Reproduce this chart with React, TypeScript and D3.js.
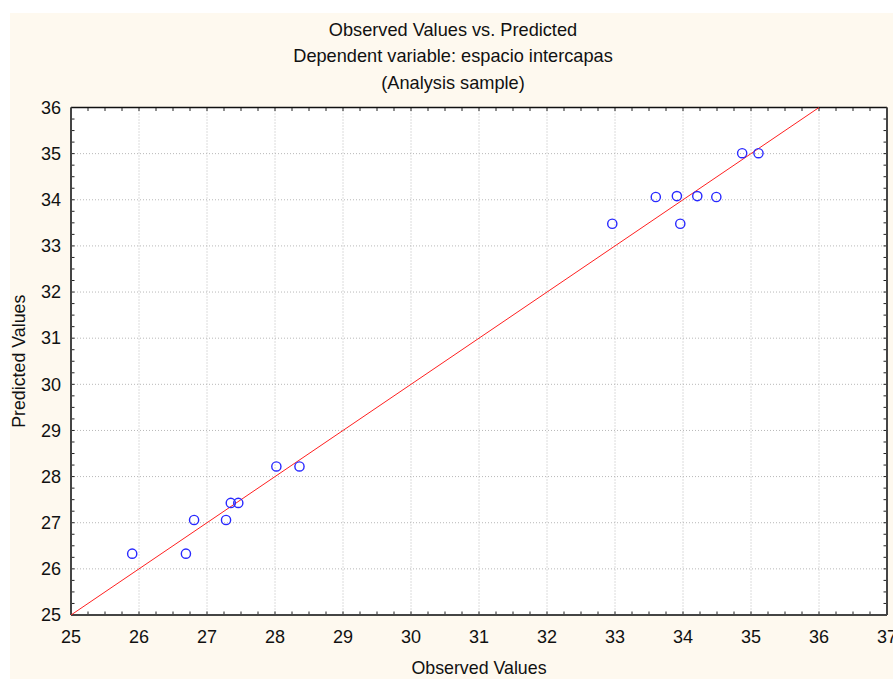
import React from "react";
import * as d3 from "d3";

const observed = [25.9, 26.69, 26.81, 27.28, 27.35, 27.46, 28.02, 28.36, 32.96, 33.6, 33.91, 33.96, 34.21, 34.49, 34.87, 35.11];
const predicted = [26.33, 26.33, 27.06, 27.06, 27.43, 27.43, 28.22, 28.22, 33.48, 34.06, 34.08, 33.48, 34.08, 34.06, 35.01, 35.01];
const xTicks = [25, 26, 27, 28, 29, 30, 31, 32, 33, 34, 35, 36, 37];
const yTicks = [25, 26, 27, 28, 29, 30, 31, 32, 33, 34, 35, 36];
const fitLine = [25, 36];
const titleLines = ["Observed Values vs. Predicted", "Dependent variable: espacio intercapas", "(Analysis sample)"];
const xTitle = "Observed Values";
const yTitle = "Predicted Values";

const W = 893;
const H = 680;
const left = 71, right = 887, top = 107.5, bottom = 615;
const FONT = "'Liberation Sans', Arial, sans-serif";

export default function App() {
  const x = d3.scaleLinear().domain([25, 37]).range([left, right]);
  const y = d3.scaleLinear().domain([25, 36]).range([bottom, top]);
  const xMinor = d3.range(25, 37.001, 0.25);
  const yMinor = d3.range(25, 36.001, 0.25);
  const line = d3.line<number>().x((d) => x(d)).y((d) => y(d));
  const tickLen = 3.5;

  return (
    <svg width={W} height={H} style={{ position: "absolute", left: 0, top: 0, display: "block" }} fontFamily={FONT}>
      <rect x={0} y={0} width={W} height={H} fill="#ffffff" />
      <rect x={10} y={13} width={W - 10} height={666} fill="#FEF9EF" />
      <rect x={left} y={top} width={right - left} height={bottom - top} fill="#ffffff" />
      {titleLines.map((t, i) => (
        <text key={t} x={453} y={35.5 + i * 26.5} textAnchor="middle" fontSize={18.2} fill="#111">
          {t}
        </text>
      ))}
      {/* grid */}
      {xTicks.slice(1, -1).map((t) => (
        <line key={"gx" + t} x1={x(t)} x2={x(t)} y1={top} y2={bottom} stroke="#b8b8b8" strokeWidth={1} strokeDasharray="1,2" />
      ))}
      {yTicks.slice(1, -1).map((t) => (
        <line key={"gy" + t} x1={left} x2={right} y1={y(t)} y2={y(t)} stroke="#b8b8b8" strokeWidth={1} strokeDasharray="1,2" />
      ))}
      {/* minor ticks inside */}
      {xMinor.map((t) => (
        <g key={"tx" + t}>
          <line x1={x(t)} x2={x(t)} y1={bottom} y2={bottom - tickLen} stroke="#222" strokeWidth={1} />
          <line x1={x(t)} x2={x(t)} y1={top} y2={top + tickLen} stroke="#222" strokeWidth={1} />
        </g>
      ))}
      {yMinor.map((t) => (
        <g key={"ty" + t}>
          <line x1={left} x2={left + tickLen} y1={y(t)} y2={y(t)} stroke="#222" strokeWidth={1} />
          <line x1={right} x2={right - tickLen} y1={y(t)} y2={y(t)} stroke="#222" strokeWidth={1} />
        </g>
      ))}
      {/* frame */}
      <line x1={left} x2={right} y1={top} y2={top} stroke="#111" strokeWidth={1.5} />
      <line x1={right} x2={right} y1={top} y2={bottom} stroke="#444" strokeWidth={2} />
      <line x1={left} x2={right} y1={bottom} y2={bottom} stroke="#444" strokeWidth={2} />
      <line x1={left} x2={left} y1={top} y2={bottom} stroke="#444" strokeWidth={2} />
      {/* fit line */}
      <path d={line(fitLine) || ""} fill="none" stroke="#ff2020" strokeWidth={1} />
      {/* points */}
      {observed.map((o, i) => (
        <circle key={"p" + i} cx={x(o)} cy={y(predicted[i])} r={4.6} fill="none" stroke="#2828ff" strokeWidth={1.4} />
      ))}
      {/* tick labels */}
      {xTicks.map((t) => (
        <text key={"lx" + t} x={x(t)} y={643} textAnchor="middle" fontSize={18} fill="#111">
          {t}
        </text>
      ))}
      {yTicks.map((t) => (
        <text key={"ly" + t} x={61} y={y(t)} dy="0.35em" textAnchor="end" fontSize={18} fill="#111">
          {t}
        </text>
      ))}
      <text x={(left + right) / 2} y={674} textAnchor="middle" fontSize={17.8} fill="#111">
        {xTitle}
      </text>
      <text transform={`translate(25,${(top + bottom) / 2}) rotate(-90)`} textAnchor="middle" fontSize={17.8} fill="#111">
        {yTitle}
      </text>
    </svg>
  );
}
